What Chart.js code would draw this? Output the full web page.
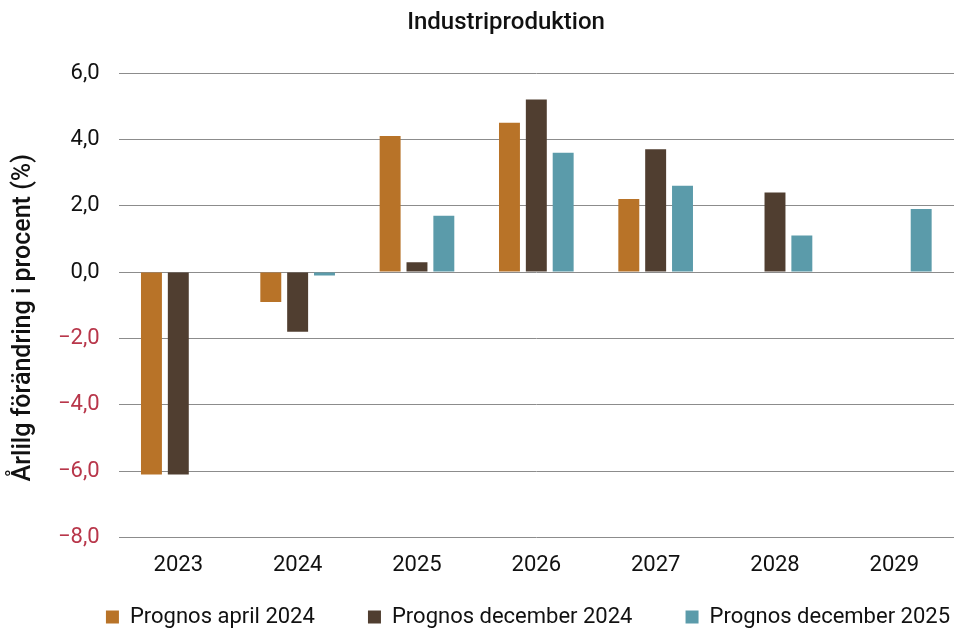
<!DOCTYPE html>
<html lang="sv">
  <head>
    <meta charset="UTF-8" />
    <title>Industriproduktion</title>
    <script src="https://cdn.jsdelivr.net/npm/chart.js@4"></script>
    <style>
      html, body { margin: 0; padding: 0; background: #fff; }
      .wrap { position: relative; width: 954px; height: 630px; }
      .title {
        position: absolute; top: 7px; left: 0; width: 1012px;
        text-align: center; font: 500 24px Roboto, sans-serif; color: #111;
      }
    </style>
  </head>
  <body>
    <div class="wrap">
      <div class="title">Industriproduktion</div>
      <canvas id="myChart" width="954" height="630"></canvas>
    </div>
    <script>
      const years = ["2023", "2024", "2025", "2026", "2027", "2028", "2029"];
      const seriesNames = ["Prognos april 2024", "Prognos december 2024", "Prognos december 2025"];
      const april2024 = [-6.1, -0.9, 4.1, 4.5, 2.2, null, null];
      const dec2024 = [-6.1, -1.8, 0.3, 5.2, 3.7, 2.4, null];
      const dec2025 = [null, -0.1, 1.7, 3.6, 2.6, 1.1, 1.9];
      const colors = ["#B87328", "#503E30", "#5B9BAA"];

      const font = "Roboto, sans-serif";

      let data = {
        labels: years,
        datasets: [april2024, dec2024, dec2025].map((vals, i) => ({
          label: seriesNames[i],
          data: vals,
          backgroundColor: colors[i],
          borderWidth: 0,
          categoryPercentage: 0.675,
          barPercentage: 0.78,
        })),
      };

      // trailing spaces widen the gap between legend items without growing the legend's height
      const legendGap = "         ";

      let config = {
        type: "bar",
        data: data,
        options: {
          responsive: false,
          animation: false,
          layout: { padding: { top: 73, right: 0, left: 8, bottom: -8 } },
          plugins: {
            tooltip: { enabled: false },
            legend: {
              position: "bottom",
              align: "end",
              labels: {
                boxWidth: 13,
                boxHeight: 13,
                padding: 4,
                color: "#111",
                font: { family: font, size: 22 },
                generateLabels: (chart) =>
                  Chart.defaults.plugins.legend.labels.generateLabels(chart).map((item, i, all) => {
                    if (i < all.length - 1) item.text += legendGap;
                    return item;
                  }),
              },
            },
          },
          scales: {
            x: {
              grid: { display: false, drawTicks: false },
              border: { display: false },
              ticks: { color: "#111", font: { family: font, size: 22 }, padding: 15 },
              title: { display: true, text: " ", font: { size: 5 }, padding: { top: 1, bottom: 1 } },
            },
            y: {
              min: -8,
              max: 6,
              ticks: {
                stepSize: 2,
                padding: 19,
                font: { family: font, size: 22 },
                color: (ctx) => (ctx.tick.value < 0 ? "#B8364A" : "#111"),
                callback: (v) => (v < 0 ? "\u2212" : "") + Math.abs(v).toFixed(1).replace(".", ","),
              },
              grid: { color: "#8c8c8c", lineWidth: 1, drawTicks: false },
              border: { display: false },
              title: {
                display: true,
                // trailing spaces nudge the rotated title a little lower, as in the original
                text: "Årlilg förändring i procent (%)    ",
                color: "#111",
                font: { family: font, size: 25, weight: "500" },
                padding: { top: 1, bottom: 0 },
              },
            },
          },
        },
      };

      let myChart = new Chart(document.getElementById("myChart"), config);
    </script>
  </body>
</html>
